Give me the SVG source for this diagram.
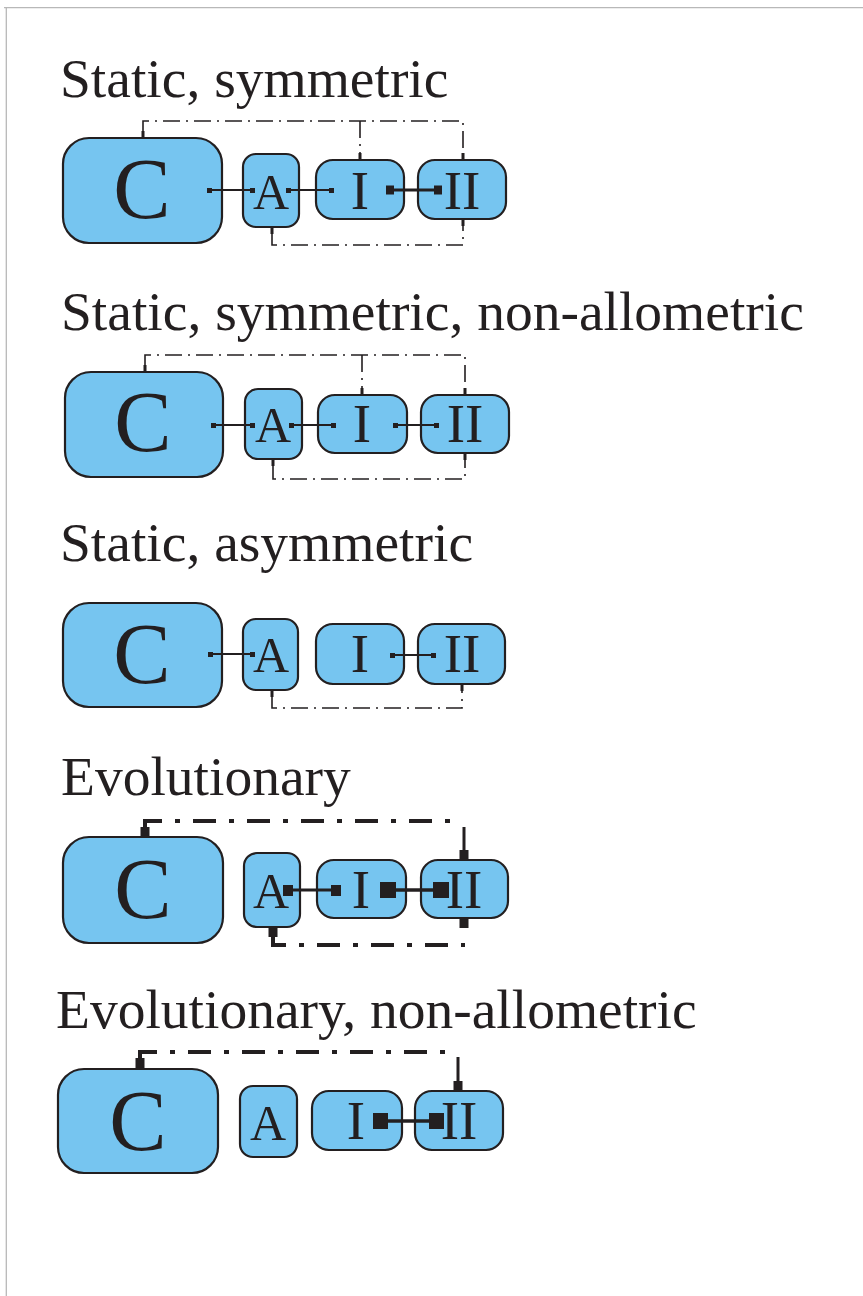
<svg xmlns="http://www.w3.org/2000/svg" width="863" height="1296" viewBox="0 0 863 1296">
<style>
.bg{fill:#ffffff}
.frame{stroke:#b8b8b8;stroke-width:1.3;fill:none}
.box{fill:#76c5f0;stroke:#231f20;stroke-width:2.2}
.title{font-family:"Liberation Serif","Times New Roman",serif;font-size:55.5px;fill:#231f20}
.big{font-family:"Liberation Serif","Times New Roman",serif;font-size:86px;fill:#231f20;text-anchor:middle}
.lbl{font-family:"Liberation Serif","Times New Roman",serif;font-size:50px;fill:#231f20;text-anchor:middle}
.lblI{font-family:"Liberation Serif","Times New Roman",serif;font-size:55px;fill:#231f20;text-anchor:middle}
.ln{stroke:#231f20;stroke-width:1.8;fill:none}
.lnT{stroke:#231f20;stroke-width:3;fill:none}
.lnTT{stroke:#231f20;stroke-width:3.6;fill:none}
.dd{stroke:#231f20;stroke-width:1.6;fill:none;stroke-dasharray:17 6 2 6}
.ddT{stroke:#231f20;stroke-width:4;fill:none;stroke-dasharray:23 13 5 13}
.tk{fill:#231f20}
</style>
<rect class="bg" x="0" y="0" width="863" height="1296"/>
<path class="frame" d="M4,7.7 H863 M6.3,7.7 V1296"/>

<g id="titles">
<text class="title" x="60" y="97">Static, symmetric</text>
<text class="title" x="61" y="330">Static, symmetric, non-allometric</text>
<text class="title" x="60" y="561">Static, asymmetric</text>
<text class="title" x="61" y="795">Evolutionary</text>
<text class="title" x="56" y="1028">Evolutionary, non-allometric</text>
</g>

<!-- Panel 1 -->
<g id="p1-C"><rect class="box" x="63" y="138" width="159" height="105" rx="26"/><text class="big" x="142" y="218">C</text></g>
<g id="p1-A"><rect class="box" x="243" y="154" width="56" height="73" rx="13"/><text class="lbl" x="271" y="209">A</text></g>
<g id="p1-I"><rect class="box" x="316" y="160" width="88" height="59" rx="17"/><text class="lblI" x="360" y="209">I</text></g>
<g id="p1-II"><rect class="box" x="418" y="160" width="88" height="59" rx="17"/><text class="lblI" x="462" y="209">II</text></g>

<!-- Panel 2 -->
<g id="p2-C"><rect class="box" x="65" y="372" width="158" height="105" rx="26"/><text class="big" x="143" y="451">C</text></g>
<g id="p2-A"><rect class="box" x="245" y="389" width="57" height="70" rx="13"/><text class="lbl" x="273" y="442">A</text></g>
<g id="p2-I"><rect class="box" x="318" y="395" width="89" height="58" rx="17"/><text class="lblI" x="362" y="442">I</text></g>
<g id="p2-II"><rect class="box" x="421" y="395" width="88" height="58" rx="17"/><text class="lblI" x="465" y="442">II</text></g>

<!-- Panel 3 -->
<g id="p3-C"><rect class="box" x="63" y="603" width="159" height="104" rx="26"/><text class="big" x="142" y="683">C</text></g>
<g id="p3-A"><rect class="box" x="243" y="619" width="55" height="71" rx="13"/><text class="lbl" x="271" y="672">A</text></g>
<g id="p3-I"><rect class="box" x="316" y="624" width="88" height="60" rx="17"/><text class="lblI" x="360" y="672">I</text></g>
<g id="p3-II"><rect class="box" x="418" y="624" width="87" height="60" rx="17"/><text class="lblI" x="462" y="672">II</text></g>

<!-- Panel 4 -->
<g id="p4-C"><rect class="box" x="63" y="837" width="160" height="106" rx="26"/><text class="big" x="143" y="918">C</text></g>
<g id="p4-A"><rect class="box" x="244" y="853" width="56" height="74" rx="13"/><text class="lbl" x="271" y="908">A</text></g>
<g id="p4-I"><rect class="box" x="317" y="860" width="89" height="58" rx="17"/><text class="lblI" x="361" y="908">I</text></g>
<g id="p4-II"><rect class="box" x="421" y="860" width="87" height="58" rx="17"/><text class="lblI" x="464" y="908">II</text></g>

<!-- Panel 5 -->
<g id="p5-C"><rect class="box" x="58" y="1069" width="160" height="104" rx="26"/><text class="big" x="138" y="1150">C</text></g>
<g id="p5-A"><rect class="box" x="240" y="1086" width="57" height="71" rx="13"/><text class="lbl" x="268" y="1140">A</text></g>
<g id="p5-I"><rect class="box" x="312" y="1091" width="90" height="59" rx="17"/><text class="lblI" x="356" y="1139">I</text></g>
<g id="p5-II"><rect class="box" x="415" y="1091" width="88" height="59" rx="17"/><text class="lblI" x="459" y="1139">II</text></g>

<g id="connectors">
<!-- Panel 1 -->
<path class="ln" d="M209,190 H253 M288,190 H331"/>
<rect class="tk" x="207" y="188" width="5" height="5"/><rect class="tk" x="250" y="188" width="5" height="5"/>
<rect class="tk" x="286" y="188" width="5" height="5"/><rect class="tk" x="329" y="188" width="5" height="5"/>
<path class="lnT" d="M390,190 H437"/>
<rect class="tk" x="386" y="185.5" width="8" height="9"/><rect class="tk" x="434" y="185.5" width="8" height="9"/>
<path class="dd" d="M143,132 V121 H463 V154 M360,121 V154"/>
<path class="dd" d="M272,233 V245 H463 V225"/>
<rect class="tk" x="141.5" y="131" width="3" height="7"/>
<rect class="tk" x="358.5" y="153" width="3" height="7"/>
<rect class="tk" x="461.5" y="153" width="3" height="7"/>
<rect class="tk" x="270.5" y="227" width="3" height="7"/>
<rect class="tk" x="461.5" y="219" width="3" height="7"/>

<!-- Panel 2 -->
<path class="ln" d="M213,425 H253 M291,425 H333 M395,425 H436"/>
<rect class="tk" x="211" y="423" width="5" height="5"/><rect class="tk" x="250" y="423" width="5" height="5"/>
<rect class="tk" x="289" y="423" width="5" height="5"/><rect class="tk" x="331" y="423" width="5" height="5"/>
<rect class="tk" x="393" y="423" width="5" height="5"/><rect class="tk" x="434" y="423" width="5" height="5"/>
<path class="dd" d="M145,366 V355 H465 V389 M362,355 V389"/>
<path class="dd" d="M273,465 V479 H465 V459"/>
<rect class="tk" x="143.5" y="365" width="3" height="7"/>
<rect class="tk" x="360.5" y="388" width="3" height="7"/>
<rect class="tk" x="463.5" y="388" width="3" height="7"/>
<rect class="tk" x="271.5" y="459" width="3" height="7"/>
<rect class="tk" x="463.5" y="453" width="3" height="7"/>

<!-- Panel 3 -->
<path class="ln" d="M210,654 H253 M392,655 H433"/>
<rect class="tk" x="208" y="652" width="5" height="5"/><rect class="tk" x="250" y="652" width="5" height="5"/>
<rect class="tk" x="390" y="653" width="5" height="5"/><rect class="tk" x="431" y="653" width="5" height="5"/>
<path class="dd" d="M272,696 V708 H462 V690"/>
<rect class="tk" x="270.5" y="690" width="3" height="7"/>
<rect class="tk" x="460.5" y="684" width="3" height="7"/>

<!-- Panel 4 -->
<path class="lnT" d="M287,890 H336"/>
<rect class="tk" x="283" y="885" width="10" height="11"/><rect class="tk" x="331" y="885" width="10" height="11"/>
<path class="lnTT" d="M388,890 H441"/>
<rect class="tk" x="380" y="882" width="16" height="16"/><rect class="tk" x="433" y="882" width="16" height="16"/>
<path class="ddT" d="M145,827 V821 H455"/>
<path class="lnT" d="M464,827 V852"/>
<rect class="tk" x="140.5" y="827" width="9" height="10"/>
<rect class="tk" x="459.5" y="850" width="9" height="10"/>
<path class="ddT" d="M273,935 V945 H465"/>
<rect class="tk" x="268.5" y="927" width="9" height="10"/>
<rect class="tk" x="459.5" y="918" width="9" height="10"/>

<!-- Panel 5 -->
<path class="lnTT" d="M381,1121 H436"/>
<rect class="tk" x="373" y="1113" width="15" height="16"/><rect class="tk" x="429" y="1113" width="15" height="16"/>
<path class="ddT" d="M140,1058 V1052 H452"/>
<path class="lnT" d="M458,1057 V1083"/>
<rect class="tk" x="135.5" y="1058" width="9" height="11"/>
<rect class="tk" x="453.5" y="1081" width="9" height="10"/>
</g>
</svg>
